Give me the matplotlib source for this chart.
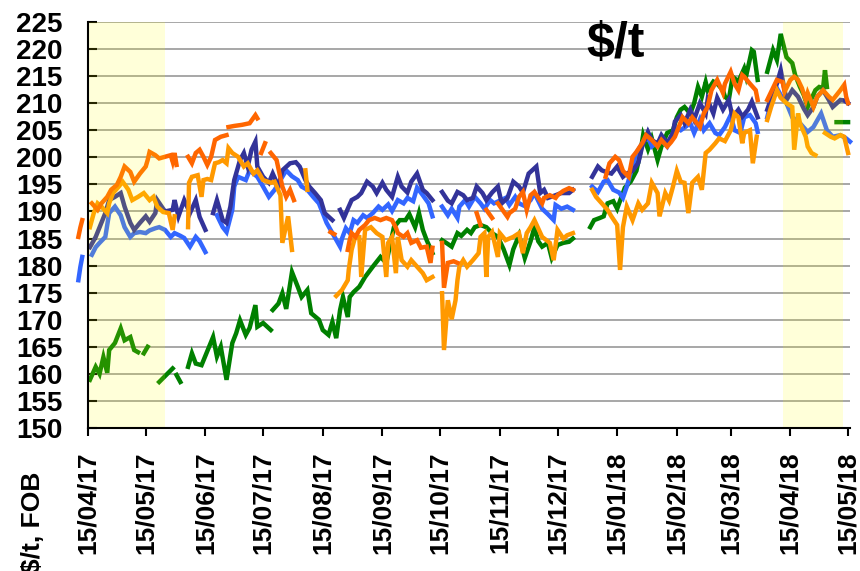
import numpy as np
import pandas as pd
import matplotlib
matplotlib.use("Agg")
import matplotlib.pyplot as plt
import matplotlib.dates as mdates

plt.rcParams["font.family"] = ["Liberation Sans", "DejaVu Sans"]
plt.rcParams["font.weight"] = "bold"

START = pd.Timestamp("2017-04-15")
END = pd.Timestamp("2018-05-16")

# (days since START, $/t); None marks a break in the quotes
navy = [
    (1, 183.4), (4, 185.3), (9, 189.7), (11, 192.1), (14, 192.7), (17, 193.4), (19, 190.9),
    (22, 187.9), (24, 186.6), (27, 187.9), (30, 189.1), (32, 188.1), (35, 189.7), (36, 192.1),
    (40, 190.0), (44, 190.3), (45, 192.1), (47, 189.1), (50, 192.1), (53, 189.7), (56, 192.1),
    (58, 189.0), (61, 186.6), None,
    (65, 189.7), (67, 192.1), (70, 188.4), (72, 187.9), (74, 190.9), (76, 195.8), (78, 198.3),
    (79, 199.5), (81, 200.8), (83, 198.3), (85, 201.4), (87, 202.9), (88, 198.3), (91, 196.4),
    (94, 195.3), (96, 197.0), (99, 194.6), (101, 197.6), (105, 198.9), (108, 199.1), (110, 198.3),
    (113, 195.8), (115, 194.6), (118, 193.4), (121, 192.1), (123, 189.7), (127, 188.4), None,
    (131, 190.3), (133, 188.8), (135, 190.5), (137, 192.1), (140, 192.7), (142, 193.4), (145, 195.5),
    (148, 194.6), (150, 193.4), (153, 195.3), (155, 194.0), (158, 192.7), (161, 196.4), (163, 194.6),
    (166, 193.5), (168, 195.5), (171, 197.0), (174, 194.0), (176, 193.4), (179, 192.1), None,
    (184, 193.6), (187, 192.0), (189, 191.5), (192, 193.6), (195, 193.0), (197, 192.1), (200, 192.5),
    (202, 194.6), (205, 193.4), (207, 192.1), (210, 193.5), (213, 194.6), (215, 191.5), (218, 192.5),
    (221, 195.5), (224, 194.6), (226, 193.5), (229, 197.0), (233, 198.3), (235, 193.4), (237, 194.0),
    (239, 192.5), (243, 193.0), (246, 193.4), (250, 193.4), (252, 194.0), None,
    (262, 196.4), (265, 198.3), (267, 197.6), (270, 197.2), (272, 197.0), (275, 198.3), (278, 196.4),
    (280, 197.0), (283, 197.5), (286, 199.0), (288, 202.0), (291, 204.7), (293, 203.2), (296, 202.5),
    (298, 204.1), (301, 202.6), (304, 204.5), (305, 206.6), (308, 207.8), (310, 206.3), (313, 208.8),
    (315, 207.0), (318, 210.0), (321, 208.1), (322, 210.6), (325, 208.1), (327, 211.0), (330, 208.8),
    (333, 210.6), (335, 207.4), (338, 208.8), (340, 207.5), (343, 208.8), (345, 210.3), (348, 207.4), None,
    (353, 208.8), (356, 211.9), (358, 213.6), (360, 216.1), (363, 210.6), (366, 212.4), (369, 211.2),
    (372, 209.0), (374, 207.8), (377, 209.3), (379, 211.2), (382, 212.4), (385, 210.6), (387, 209.3),
    (391, 210.6), (393, 210.5), (395, 210.0),
]

blue = [
    (-5, 177.3), (-4, 179.7), (-3, 181.6), None,
    (2, 182.0), (4, 183.4), (6, 184.2), (9, 185.3), (11, 189.7), (14, 190.9), (17, 189.3), (19, 187.1),
    (22, 185.3), (24, 186.0), (27, 186.2), (30, 186.0), (32, 186.5), (35, 186.9), (37, 187.1),
    (40, 186.6), (43, 185.3), (45, 186.0), (48, 185.5), (50, 185.1), (53, 183.5), (56, 185.3),
    (58, 184.5), (61, 182.5), None,
    (67, 189.3), (70, 187.1), (72, 186.2), (75, 190.3), (76, 194.6), (78, 196.4), (82, 195.8),
    (84, 197.6), (86, 197.0), (88, 196.4), (91, 194.6), (94, 192.7), (97, 194.0), (100, 195.8),
    (103, 197.6), (106, 196.5), (109, 195.8), (111, 194.6), (114, 194.0), (117, 192.7), (120, 191.5),
    (122, 189.7), (124, 187.9), (127, 186.0), (129, 184.7), (131, 183.5), (132, 185.0), (134, 186.9),
    (136, 186.0), (138, 188.4), (140, 187.9), (143, 189.3), (145, 188.8), (148, 189.7), (151, 190.9),
    (153, 190.3), (156, 191.3), (158, 190.1), (161, 192.1), (164, 191.5), (166, 192.5), (169, 191.9),
    (171, 194.4), (174, 193.0), (177, 191.5), (179, 189.1), None,
    (184, 190.9), (187, 189.3), (189, 190.5), (192, 188.8), (193, 190.9), (196, 192.1), (198, 190.9),
    (201, 192.7), (204, 191.5), (206, 190.5), (209, 192.1), (211, 191.5), (214, 192.0), (217, 192.5),
    (219, 191.2), (222, 192.7), (224, 191.5), (227, 191.0), (230, 192.1), (232, 193.4), (236, 190.5),
    (239, 189.5), (242, 188.4), (243, 191.2), (246, 190.5), (249, 190.9), (252, 190.3), None,
    (262, 194.6), (265, 193.6), (268, 195.5), (270, 195.8), (273, 194.0), (276, 193.5), (278, 192.5),
    (280, 194.6), (283, 198.3), (285, 200.8), (288, 202.6), (291, 203.8), (293, 202.0), (296, 202.8),
    (298, 203.2), (301, 202.0), (303, 203.5), (305, 205.6), (308, 205.0), (310, 205.5), (313, 206.3),
    (315, 204.5), (318, 207.0), (320, 205.0), (323, 206.3), (326, 204.5), (328, 204.1), (331, 205.6),
    (334, 207.8), (336, 205.0), (339, 204.5), (341, 207.4), (344, 207.8), (347, 206.3), (348, 204.7), None,
    (353, 207.4), (355, 210.3), (358, 212.8), (360, 211.5), (363, 210.0), (366, 207.4), (370, 206.3),
    (374, 204.7), (377, 205.6), (381, 208.1), (384, 205.0), (387, 203.8), (391, 204.1), (394, 203.5),
    (396, 202.9),
]

red_orange = [
    (-5, 185.3), (-4, 187.0), (-3, 188.4), None,
    (2, 191.5), (5, 190.3), (7, 191.5), (10, 192.7), (12, 194.0), (15, 194.9), (17, 196.4),
    (19, 198.3), (22, 197.3), (24, 195.5), (27, 197.0), (30, 198.3), (31, 199.5), (32, 201.0),
    (35, 200.4), (37, 199.8), (40, 200.1), (43, 200.4), (44, 199.2), (45, 200.8), (46, 198.6), None,
    (52, 200.1), (54, 198.9), (56, 200.8), (58, 201.4), (60, 200.1), (62, 198.6), (64, 200.1),
    (66, 203.2), (69, 203.8), (72, 204.1), None,
    (73, 205.6), (76, 205.8), (80, 206.0), (84, 206.3), (87, 207.8), (88, 207.2), None,
    (90, 200.8), (92, 202.6), None,
    (95, 200.8), (98, 199.5), (101, 194.6), (103, 192.7), (105, 194.0), (107, 192.1), None,
    (126, 186.2), (128, 185.8), None,
    (135, 182.9), (136, 184.7), (137, 186.0), (139, 185.3), (141, 186.6), (144, 187.5), (146, 188.4),
    (149, 188.8), (152, 188.4), (155, 188.8), (158, 188.4), (160, 187.0), (161, 186.0), (164, 185.3),
    (166, 186.0), (168, 184.2), (171, 184.7), (173, 183.3), (176, 183.5), (178, 180.5), (179, 183.3), None,
    (184, 184.2), (185, 175.9), (187, 180.5), (190, 180.8), (192, 180.5), None,
    (202, 189.7), (204, 187.5), None,
    (207, 190.3), (210, 188.8), None,
    (213, 191.5), (218, 189.0), (219, 189.7), (222, 190.5), (224, 192.7), (226, 193.6), (228, 190.3),
    (230, 193.0), (232, 193.6), (236, 191.5), (237, 192.5), (240, 193.0), (243, 192.5), (244, 193.0),
    (247, 193.8), (250, 194.3), (252, 194.0), None,
    (269, 196.4), (271, 198.9), (274, 200.1), (276, 199.5), (278, 197.5), (281, 196.4), (283, 200.1),
    (285, 201.0), (288, 202.6), (290, 204.1), (293, 203.2), (296, 202.0), (298, 203.2), (301, 202.0),
    (303, 202.8), (305, 203.8), (307, 205.6), (309, 207.4), (312, 206.3), (314, 207.4), (318, 205.6),
    (320, 208.1), (322, 209.3), (324, 212.4), (327, 214.3), (330, 211.9), (331, 213.6), (334, 215.8),
    (336, 213.6), (338, 212.4), (340, 215.2), (341, 214.9), (344, 213.6), (347, 212.4), (348, 210.6), None,
    (353, 210.6), (356, 212.8), (358, 214.3), (361, 213.9), (362, 212.1), (365, 214.3), (367, 214.9),
    (369, 214.3), (371, 212.8), (373, 210.6), (374, 211.9), (377, 209.3), (379, 211.2), (382, 212.4),
    (385, 211.2), (387, 210.6), (391, 212.4), (393, 213.4), (394, 211.2), (395, 210.0),
]

orange = [
    (1, 187.1), (3, 189.7), (5, 191.5), (7, 190.9), (10, 189.7), (11, 191.5), (13, 193.4), (16, 194.6),
    (18, 195.5), (21, 194.0), (23, 192.1), (26, 192.7), (29, 193.4), (32, 192.1), (34, 192.7),
    (36, 190.9), (39, 189.9), (42, 189.7), (44, 186.6), (45, 189.1), None,
    (52, 187.1), (52.5, 195.3), (54, 196.4), (57, 196.7), (59, 192.7), (60, 195.8), (62, 196.0),
    (64, 195.8), (66, 198.9), (68, 199.1), (70, 199.5), (72, 198.9), (73, 201.7), (75, 200.8),
    (78, 200.1), (81, 198.3), (83, 198.9), (86, 197.0), (88, 197.6), (91, 195.8), (95, 195.3),
    (97, 195.5), (100, 193.0), (101, 184.2), (104, 189.1), (106, 182.9), None,
    (113, 197.6), (114, 194.0), None,
    (129, 174.4), (132, 175.5), (135, 177.3), (135.5, 179.2), (137, 182.9), (139, 185.5), (141, 185.3),
    (142, 177.9), (144, 186.6), (147, 187.1), (150, 186.0), (153, 185.3), (155, 177.9), (156, 184.2),
    (158, 185.3), (160, 178.6), (161, 185.3), (163, 181.0), (166, 179.8), (168, 181.0), (171, 179.8),
    (174, 178.6), (176, 177.3), (179, 177.9), None,
    (184, 174.9), (185, 164.4), (187, 173.6), (189, 170.1), (191, 173.6), (192, 177.3), (193, 179.8),
    (195, 181.0), (197, 179.8), (200, 181.0), (203, 182.3), (204, 185.3), (206, 186.0), (207, 177.9),
    (208, 185.3), (210, 186.2), (213, 181.6), (214, 186.0), (217, 184.7), (221, 185.3), (224, 186.0),
    (226, 182.3), (228, 186.0), (230, 187.1), (232, 188.4), (236, 185.3), (240, 184.2), (242, 181.0),
    (244, 186.6), (247, 185.0), (249, 185.6), (252, 186.0), None,
    (262, 194.0), (264, 192.7), (267, 191.5), (270, 190.3), (272, 189.1), (275, 187.5), (276.5, 179.2),
    (278, 187.1), (280, 190.9), (283, 188.4), (286, 191.5), (288, 190.3), (291, 191.5), (293, 195.3),
    (296, 193.4), (297, 189.1), (300, 193.4), (302, 192.0), (304, 194.6), (306, 197.5), (308, 195.5),
    (310, 195.3), (312, 189.7), (314, 195.3), (317, 196.4), (319, 194.0), (321, 200.8), (323, 201.4),
    (326, 202.6), (328, 203.5), (331, 203.0), (334, 205.0), (336, 208.1), (338, 207.4), (340, 202.6),
    (341, 204.5), (344, 205.0), (345.5, 198.9), (347.5, 203.8), None,
    (353, 206.9), (355, 209.3), (358, 212.4), (360, 211.0), (363, 210.0), (366, 209.3), (367, 201.4),
    (369, 208.1), (370, 206.3), (373, 203.8), (374, 202.0), (376, 200.8), (378, 200.4), None,
    (383, 204.5), (386, 203.8), (388, 203.5), (391, 204.1), (393, 203.8), (395, 200.8),
]

green = [
    (1, 158.9), (4, 161.3), (6, 160.0), (8, 163.1), (10, 160.2), (11, 164.4), (14, 165.7), (17, 168.4),
    (19, 166.2), (22, 166.8), (24, 164.4), (26, 164.0), None,
    (29, 163.8), (31, 165.0), None,
    (37, 158.5), (44, 161.0), None,
    (46, 159.8), (48, 158.5), None,
    (52, 161.3), (54, 163.8), (56, 161.9), (59, 161.6), (65, 166.8), (67, 163.2), (69, 165.0),
    (72, 158.9), (75, 165.7), (77, 167.5), (79, 169.9), (82, 167.2), (84, 168.5), (87, 172.7),
    (88, 168.7), (91, 169.4), (95, 168.1), None,
    (96, 171.8), (99, 173.0), (101, 174.9), (103, 172.0), (106, 178.8), (109, 176.1), (111, 174.2),
    (114, 175.5), (116, 171.2), (120, 170.0), (122, 168.1), (125, 167.2), (127, 169.6), (129, 166.6),
    (131, 171.8), (132.5, 174.2), (135, 170.5), (136, 174.2), (138, 175.1), (141, 176.1), (144, 177.9),
    (148, 179.8), (152, 181.6), (155, 180.5), (159, 187.1), (162, 188.4), (165, 188.4), (167, 189.5),
    (170, 187.1), (172, 189.7), (174, 186.6), (176, 184.7), (179, 182.3), None,
    (184, 184.7), (187, 184.0), (189, 183.5), (192, 186.0), (194, 185.5), (197, 186.6), (199, 186.0),
    (201, 187.1), (204, 187.5), (207, 187.1), (210, 186.0), (213, 185.3), (216, 183.0), (219, 180.1),
    (221, 183.0), (224, 185.6), (227, 181.4), (230, 184.5), (232, 187.1), (234, 184.5), (236, 183.5),
    (239, 184.2), (241, 181.4), (244, 183.8), (247, 184.2), (250, 184.4), (252, 185.0), None,
    (261, 187.1), (263, 188.4), (266, 188.8), (268, 189.1), (270, 191.5), (273, 191.9), (275, 190.5),
    (279, 194.4), (282, 195.5), (285, 197.5), (287, 200.8), (288.5, 204.1), (291, 201.5), (293, 203.5),
    (296, 199.5), (298, 202.0), (301, 204.5), (304, 205.0), (306, 207.4), (308, 208.8), (310, 209.3),
    (313, 208.1), (315, 210.0), (317, 213.0), (319, 211.2), (321, 213.9), (322, 212.4), (325, 214.0),
    (327, 213.6), (330, 212.4), (331, 211.2), (333, 210.6), (335, 214.9), (338, 214.0), (341, 216.4),
    (342, 215.0), (345, 219.8), (346, 219.5), (348, 214.3), None,
    (353, 215.8), (356, 219.8), (358, 218.0), (360, 222.8), (363, 218.5), (366, 217.4), (367.5, 215.2),
    (370, 213.0), (372, 211.5), (374, 209.3), (378, 212.4), (380, 213.0), (382, 212.8), (383, 216.1),
    (384, 213.0), None,
    (389, 206.5), (395, 206.5),
]

# shaded windows (days since START)
shade_spans = [(0, 40), (361, 392.5)]

series = [
    (green, "#008000"),
    (blue, "#3366FF"),
    (navy, "#333399"),
    (orange, "#FF9900"),
    (red_orange, "#FF6600"),
]

base = mdates.date2num(START.to_pydatetime())


def to_xy(points):
    xs, ys = [], []
    for p in points:
        if p is None:
            xs.append(xs[-1] + 0.5)
            ys.append(np.nan)
        else:
            xs.append(p[0])
            ys.append(p[1])
    return base + np.array(xs, dtype=float), np.array(ys, dtype=float)


fig = plt.figure(figsize=(8.6, 5.71), dpi=100)
ax = fig.add_axes([88 / 860, 1 - 428 / 571, (850 - 88) / 860, (428 - 22) / 571])

for pts, col in series:
    x, y = to_xy(pts)
    ax.plot(x, y, color=col, lw=3.2, solid_joinstyle="miter", clip_on=False, zorder=3)

for d0, d1 in shade_spans:
    ax.axvspan(base + d0, base + d1, color="#ffff00", alpha=0.15, lw=0, zorder=5)

ax.set_xlim(base, mdates.date2num(END.to_pydatetime()))
ax.set_ylim(150, 225)
ax.set_yticks(range(150, 226, 5))

month_ticks = [START + pd.DateOffset(months=i) for i in range(14)]
ax.set_xticks([mdates.date2num(t.to_pydatetime()) for t in month_ticks])
ax.xaxis.set_major_formatter(mdates.DateFormatter("%d/%m/%y"))

ax.yaxis.grid(True, color="#a0a0a0", lw=1.3)
ax.set_axisbelow(True)
for side in ("top", "right"):
    ax.spines[side].set_visible(False)
for side in ("left", "bottom"):
    ax.spines[side].set_linewidth(1.5)
    ax.spines[side].set_zorder(6)

ax.tick_params(axis="y", direction="in", length=6.5, width=1.5, pad=18.5, labelsize=20)
ax.tick_params(axis="x", direction="out", length=6, width=1.5, pad=11, labelsize=19,
               labelrotation=90)

fig.text(0.716, 0.923, "$/t", fontsize=36, fontweight="bold", ha="center", va="center")
fig.text(0.038, 0.086, "$/t, FOB", fontsize=19, fontweight="bold", ha="center", va="center",
         rotation=90)

fig.savefig("out.png", dpi=100)
